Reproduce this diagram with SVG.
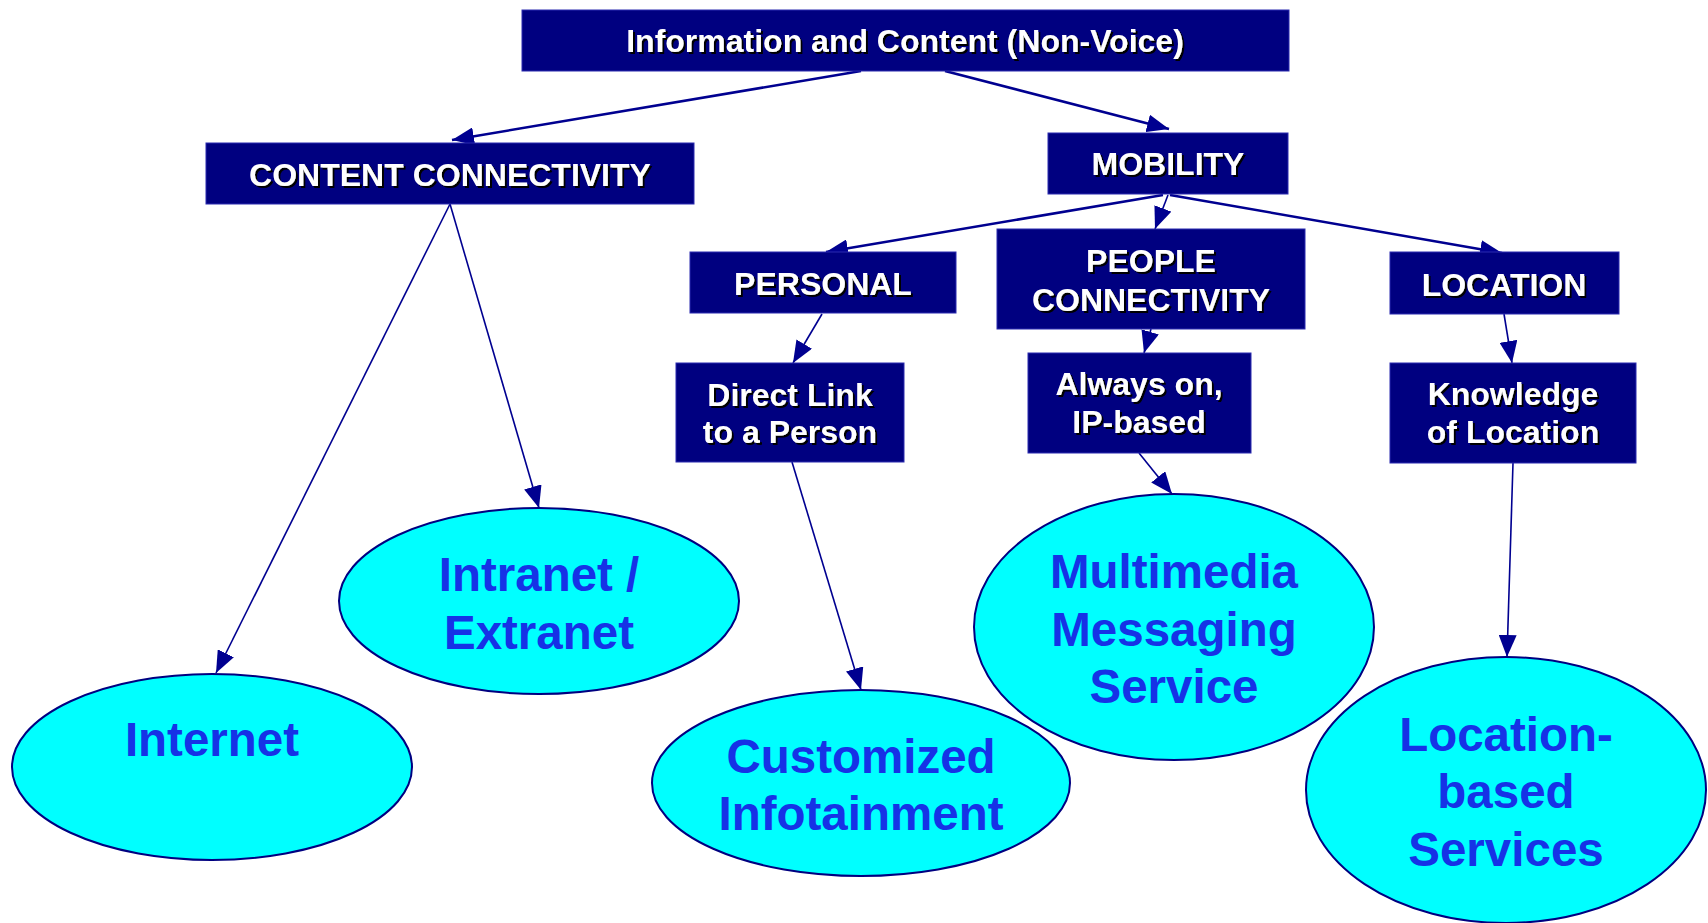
<svg xmlns="http://www.w3.org/2000/svg" width="1708" height="923" viewBox="0 0 1708 923">
  <style>
    .box { fill: #000080; stroke: #2b2bb0; stroke-width: 1; }
    .boxtext { font-family: "Liberation Sans", Arial, sans-serif; font-weight: bold; font-size: 32px; fill: #ffffff; text-anchor: middle; filter: url(#shadow); }
    .oval { fill: #00ffff; stroke: #000080; stroke-width: 2; }
    .ovaltext { font-family: "Liberation Sans", Arial, sans-serif; font-weight: bold; font-size: 47.5px; fill: #1632e6; text-anchor: middle; }
    .link { stroke: #000090; fill: none; marker-end: url(#arrow); }
    .thick { stroke-width: 2.5; }
    .thin { stroke-width: 1.6; }
  </style>
  <defs>
    <filter id="shadow" x="-10%" y="-20%" width="120%" height="150%">
      <feDropShadow dx="2" dy="2" stdDeviation="0" flood-color="#000000" flood-opacity="1"/>
    </filter>
    <marker id="arrow" markerUnits="userSpaceOnUse" markerWidth="22" markerHeight="18" viewBox="0 0 22 18" refX="22" refY="9" orient="auto">
      <path d="M0,0 L22,9 L0,18 z" fill="#000090"/>
    </marker>
  </defs>

  <rect width="1708" height="923" fill="#ffffff"/>

  <!-- connectors -->
  <g id="connectors">
    <line class="link thick" x1="861" y1="71" x2="452" y2="140"/>
    <line class="link thick" x1="945" y1="71" x2="1169" y2="129"/>
    <line class="link thin" x1="450" y1="204" x2="216" y2="673"/>
    <line class="link thin" x1="450" y1="204" x2="539" y2="508"/>
    <line class="link thick" x1="1163" y1="195" x2="826" y2="252"/>
    <line class="link thin" x1="1168" y1="195" x2="1155" y2="229"/>
    <line class="link thick" x1="1170" y1="195" x2="1502" y2="253"/>
    <line class="link thin" x1="822" y1="314" x2="793" y2="363"/>
    <line class="link thin" x1="1151" y1="329" x2="1144" y2="353"/>
    <line class="link thin" x1="1504" y1="314" x2="1512" y2="363"/>
    <line class="link thin" x1="792" y1="462" x2="861" y2="690"/>
    <line class="link thin" x1="1139" y1="453" x2="1172" y2="494"/>
    <line class="link thin" x1="1513" y1="463" x2="1507" y2="657"/>
  </g>

  <!-- category boxes -->
  <g id="node-information">
    <rect class="box" x="522" y="10" width="767" height="61"/>
    <text class="boxtext" x="905" y="52">Information and Content (Non-Voice)</text>
  </g>
  <g id="node-content-connectivity">
    <rect class="box" x="206" y="143" width="488" height="61"/>
    <text class="boxtext" x="450" y="186">CONTENT CONNECTIVITY</text>
  </g>
  <g id="node-mobility">
    <rect class="box" x="1048" y="133" width="240" height="61"/>
    <text class="boxtext" x="1168" y="175">MOBILITY</text>
  </g>
  <g id="node-personal">
    <rect class="box" x="690" y="252" width="266" height="61"/>
    <text class="boxtext" x="823" y="295">PERSONAL</text>
  </g>
  <g id="node-people-connectivity">
    <rect class="box" x="997" y="229" width="308" height="100"/>
    <text class="boxtext" x="1151" y="272">PEOPLE</text>
    <text class="boxtext" x="1151" y="311">CONNECTIVITY</text>
  </g>
  <g id="node-location">
    <rect class="box" x="1390" y="252" width="229" height="62"/>
    <text class="boxtext" x="1504" y="296">LOCATION</text>
  </g>
  <g id="node-direct-link">
    <rect class="box" x="676" y="363" width="228" height="99"/>
    <text class="boxtext" x="790" y="406">Direct Link</text>
    <text class="boxtext" x="790" y="443">to a Person</text>
  </g>
  <g id="node-always-on">
    <rect class="box" x="1028" y="353" width="223" height="100"/>
    <text class="boxtext" x="1139" y="395">Always on,</text>
    <text class="boxtext" x="1139" y="433">IP-based</text>
  </g>
  <g id="node-knowledge">
    <rect class="box" x="1390" y="363" width="246" height="100"/>
    <text class="boxtext" x="1513" y="405">Knowledge</text>
    <text class="boxtext" x="1513" y="443">of Location</text>
  </g>

  <!-- service ovals -->
  <g id="node-internet">
    <ellipse class="oval" cx="212" cy="767" rx="200" ry="93"/>
    <text class="ovaltext" x="212" y="756">Internet</text>
  </g>
  <g id="node-intranet">
    <ellipse class="oval" cx="539" cy="601" rx="200" ry="93"/>
    <text class="ovaltext" x="539" y="591">Intranet /</text>
    <text class="ovaltext" x="539" y="649">Extranet</text>
  </g>
  <g id="node-infotainment">
    <ellipse class="oval" cx="861" cy="783" rx="209" ry="93"/>
    <text class="ovaltext" x="861" y="773">Customized</text>
    <text class="ovaltext" x="861" y="830">Infotainment</text>
  </g>
  <g id="node-mms">
    <ellipse class="oval" cx="1174" cy="627" rx="200" ry="133"/>
    <text class="ovaltext" x="1174" y="588">Multimedia</text>
    <text class="ovaltext" x="1174" y="646">Messaging</text>
    <text class="ovaltext" x="1174" y="703">Service</text>
  </g>
  <g id="node-lbs">
    <ellipse class="oval" cx="1506" cy="790" rx="200" ry="133"/>
    <text class="ovaltext" x="1506" y="751">Location-</text>
    <text class="ovaltext" x="1506" y="808">based</text>
    <text class="ovaltext" x="1506" y="866">Services</text>
  </g>
</svg>
